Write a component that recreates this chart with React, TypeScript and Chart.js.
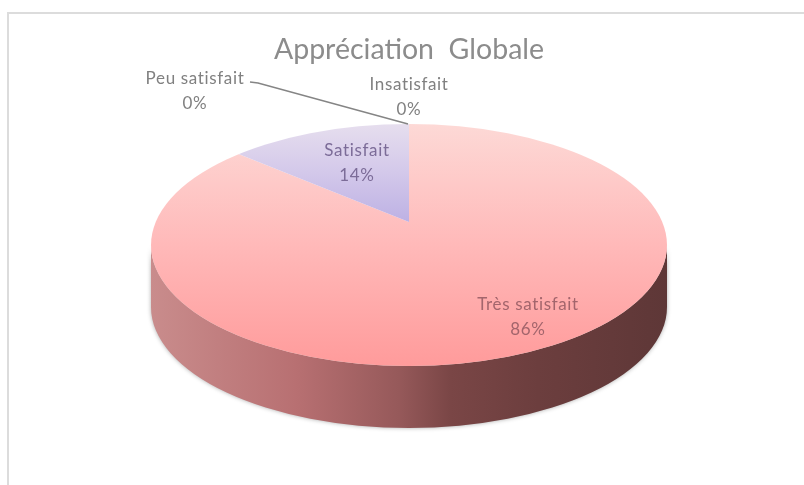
import React, { useEffect, useRef } from "react";
import { Chart, registerables } from "chart.js";

Chart.register(...registerables);

const TITLE = "Appréciation  Globale";
const categories = ["Très satisfait", "Satisfait", "Peu satisfait", "Insatisfait"];
const values = [86, 14, 0, 0];
const sliceStops = [
  ["#fdd9d6", "#ffb9b9", "#ff9b9b"],
  ["#e6deee", "#d3c8ea", "#bdb1e4"],
  ["#ffffff", "#ffffff", "#ffffff"],
  ["#ffffff", "#ffffff", "#ffffff"],
];
const labelColors = ["#a3656c", "#7c6c98", "#808080", "#808080"];
const labelCentres = [
  [528, 305],
  [357, 151],
  [195, 79],
  [409, 85],
];
const LINE_GAP = 25;

const TOP = { cx: 409, cy: 245, rx: 258, ry: 121, apexY: 222, apexRy: 124.4, depth: 62 };

const wallStops: [number, string][] = [
  [0, "#c98c8c"],
  [0.28, "#b87072"],
  [0.48, "#96595a"],
  [0.58, "#7a4646"],
  [0.75, "#6c3e3e"],
  [1, "#5e3737"],
];

const FONT = "Lato, Carlito, 'Open Sans', sans-serif";

const piePlugin = {
  id: "tiltedPie",
  beforeDraw(chart: any) {
    const ctx = chart.ctx;
    ctx.save();
    ctx.fillStyle = "#ffffff";
    ctx.fillRect(0, 0, chart.width, chart.height);
    ctx.fillStyle = "#dcdcdc";
    ctx.fillRect(7, 12, chart.width - 7, 2);
    ctx.fillRect(7, 12, 2, chart.height - 12);
    ctx.restore();
  },
  beforeDatasetsDraw(chart: any) {
    const ctx = chart.ctx;
    const { cx, cy, rx, ry, depth, apexY, apexRy } = TOP;
    const arc = chart.getDatasetMeta(0).data[0];
    const R = arc.outerRadius;

    // side wall
    ctx.save();
    const g = ctx.createLinearGradient(cx - rx, 0, cx + rx, 0);
    wallStops.forEach(([o, c]) => g.addColorStop(o, c));
    ctx.beginPath();
    ctx.ellipse(cx, cy, rx, ry, 0, Math.PI, 0, true);
    ctx.lineTo(cx + rx, cy + depth * 0.3);
    ctx.ellipse(cx, cy + depth, rx, ry, 0, 0, Math.PI, false);
    ctx.closePath();
    ctx.shadowColor = "rgba(70,70,70,0.45)";
    ctx.shadowBlur = 4;
    ctx.fillStyle = g;
    ctx.fill();
    ctx.restore();

    // top face: the slices meet at the apex and are cut by the rim
    ctx.save();
    ctx.beginPath();
    ctx.ellipse(cx, cy, rx, ry, 0, 0, Math.PI * 2);
    ctx.clip();
    const k = 1.5;
    ctx.translate(cx, apexY);
    ctx.scale((rx * k) / R, (apexRy * k) / R);
    ctx.translate(-arc.x, -arc.y);
  },
  afterDatasetsDraw(chart: any) {
    const ctx = chart.ctx;
    ctx.restore();

    // leader line
    ctx.save();
    ctx.strokeStyle = "#858585";
    ctx.lineWidth = 1.5;
    ctx.beginPath();
    ctx.moveTo(250, 82);
    ctx.lineTo(258, 83);
    ctx.lineTo(408, 124);
    ctx.stroke();

    // data labels
    const total = values.reduce((a, b) => a + b, 0);
    ctx.textAlign = "center";
    ctx.textBaseline = "middle";
    ctx.font = `17px ${FONT}`;
    ctx.letterSpacing = "0.65px";
    ctx.filter = "blur(0.5px)";
    categories.forEach((name, i) => {
      const [x, y] = labelCentres[i];
      ctx.fillStyle = labelColors[i];
      ctx.fillText(name, x, y);
      ctx.fillText(`${Math.round((values[i] / total) * 100)}%`, x, y + LINE_GAP);
    });
    ctx.restore();
  },
};

export default function App() {
  const ref = useRef<HTMLCanvasElement>(null);
  useEffect(() => {
    const chart = new Chart(ref.current as HTMLCanvasElement, {
      type: "pie",
      data: {
        labels: categories,
        datasets: [
          {
            data: values,
            borderWidth: 0,
            backgroundColor: (c: any) => {
              const ch = c.chart;
              const area = ch.chartArea;
              const stops = sliceStops[c.dataIndex] || sliceStops[0];
              if (!area) return stops[1];
              const R = Math.min(area.width, area.height) / 2;
              const ay = (area.top + area.bottom) / 2;
              const sy = (TOP.apexRy * 1.5) / R;
              const toLocal = (py: number) => ay + (py - TOP.apexY) / sy;
              const g = ch.ctx.createLinearGradient(
                0,
                toLocal(TOP.cy - TOP.ry),
                0,
                toLocal(c.dataIndex === 1 ? TOP.apexY : TOP.cy + TOP.ry)
              );
              g.addColorStop(0, stops[0]);
              g.addColorStop(0.5, stops[1]);
              g.addColorStop(1, stops[2]);
              return g;
            },
          },
        ],
      },
      options: {
        responsive: false,
        animation: false,
        layout: { padding: { left: 14 } },
        plugins: {
          legend: { display: false },
          tooltip: { enabled: false },
          title: {
            display: true,
            text: TITLE,
            color: "#8c8c8c",
            font: { family: FONT, size: 28.5, weight: "normal" },
            padding: { top: 33, bottom: 10 },
          },
        },
      },
      plugins: [piePlugin],
    } as any);
    return () => chart.destroy();
  }, []);
  return (
    <canvas
      ref={ref}
      width={804}
      height={485}
      style={{ position: "fixed", left: 0, top: 0, display: "block", width: 804, height: 485 }}
    />
  );
}
